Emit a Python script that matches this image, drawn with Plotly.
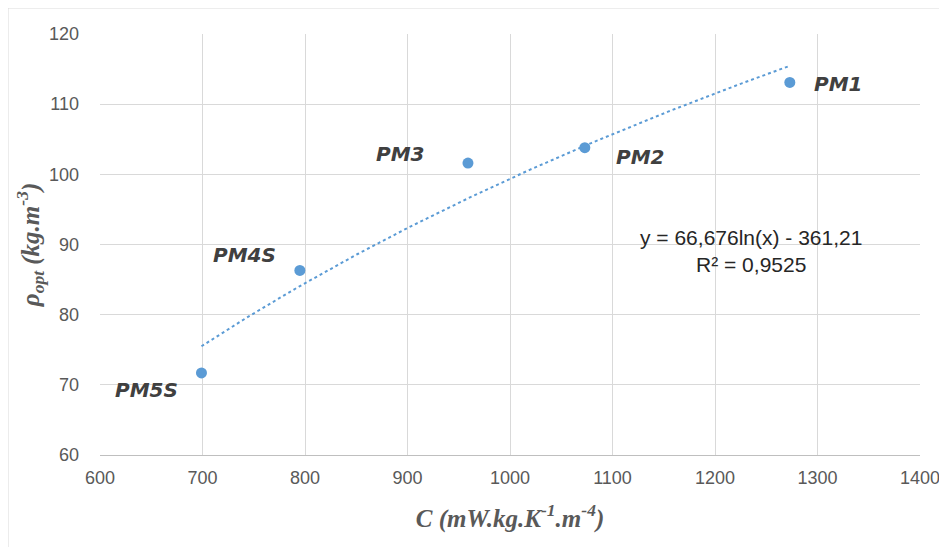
import numpy as np
import plotly.graph_objects as go

# Data
names = ["PM5S", "PM4S", "PM3", "PM2", "PM1"]
c_values = [699, 795, 959, 1073, 1273]
rho_values = [71.7, 86.3, 101.6, 103.8, 113.1]

# Logarithmic trendline coefficients (as displayed)
trend_a = 66.676
trend_b = -361.21
eq_text = "y = 66,676ln(x) - 361,21<br>R² = 0,9525"

x_ticks = [600, 700, 800, 900, 1000, 1100, 1200, 1300, 1400]
y_ticks = [60, 70, 80, 90, 100, 110, 120]

tx = np.linspace(min(c_values), max(c_values), 200)
ty = trend_a * np.log(tx) + trend_b

fig = go.Figure()
fig.add_trace(go.Scatter(x=tx, y=ty, mode="lines",
                         line=dict(color="#5b9bd5", width=2, dash="dot"),
                         hoverinfo="skip", showlegend=False))
fig.add_trace(go.Scatter(x=c_values, y=rho_values, mode="markers",
                         marker=dict(color="#5b9bd5", size=11),
                         showlegend=False))

label_pos = {
    "PM5S": dict(xshift=-55, yshift=-17),
    "PM4S": dict(xshift=-55, yshift=15),
    "PM3": dict(xshift=-68, yshift=9),
    "PM2": dict(xshift=55, yshift=-9),
    "PM1": dict(xshift=48, yshift=-2),
}
lab_font = dict(family="DejaVu Sans, Open Sans, sans-serif", size=20, color="#404040")
for n, x, y in zip(names, c_values, rho_values):
    p = label_pos[n]
    fig.add_annotation(x=x, y=y, text="<b><i>%s</i></b>" % n, showarrow=False,
                       xshift=p["xshift"], yshift=p["yshift"], font=lab_font)

fig.add_annotation(x=1235, y=89.1, text=eq_text, showarrow=False,
                   font=dict(family="Liberation Sans, Arial, sans-serif", size=21, color="#262626"),
                   align="center", bgcolor="rgba(255,255,255,0)")

# outer chart border
fig.add_shape(type="rect", xref="paper", yref="paper",
              x0=-0.1122, x1=1.2, y0=-0.4, y1=1.0618,
              line=dict(color="#d9d9d9", width=1), layer="below")

tick_font = dict(family="Liberation Sans, Arial, sans-serif", size=18, color="#595959")
title_font = dict(family="Liberation Serif, Times New Roman, serif", size=25, color="#595959")

fig.update_layout(
    width=947, height=547,
    margin=dict(l=92, r=35, t=26, b=100),
    paper_bgcolor="white", plot_bgcolor="white",
    xaxis=dict(range=[600, 1400], tickvals=x_ticks, showgrid=True, gridcolor="#d9d9d9",
               gridwidth=1, zeroline=False, showline=True, linecolor="#bfbfbf",
               tickfont=tick_font, ticks="", ticklabelstandoff=6,
               title=dict(text="<b><i>C (mW.kg.K<sup>-1</sup>.m<sup>-4</sup>)</i></b>",
                          font=title_font, standoff=22)),
    yaxis=dict(range=[60, 120], tickvals=y_ticks, showgrid=True, gridcolor="#d9d9d9",
               gridwidth=1, zeroline=False, showline=False,
               tickfont=tick_font, ticks="", ticklabelstandoff=20,
               title=dict(text="<b><i>ρ<sub>opt</sub> (kg.m<sup>-3</sup>)</i></b>",
                          font=title_font, standoff=2)),
)

fig.write_html("out.html")
